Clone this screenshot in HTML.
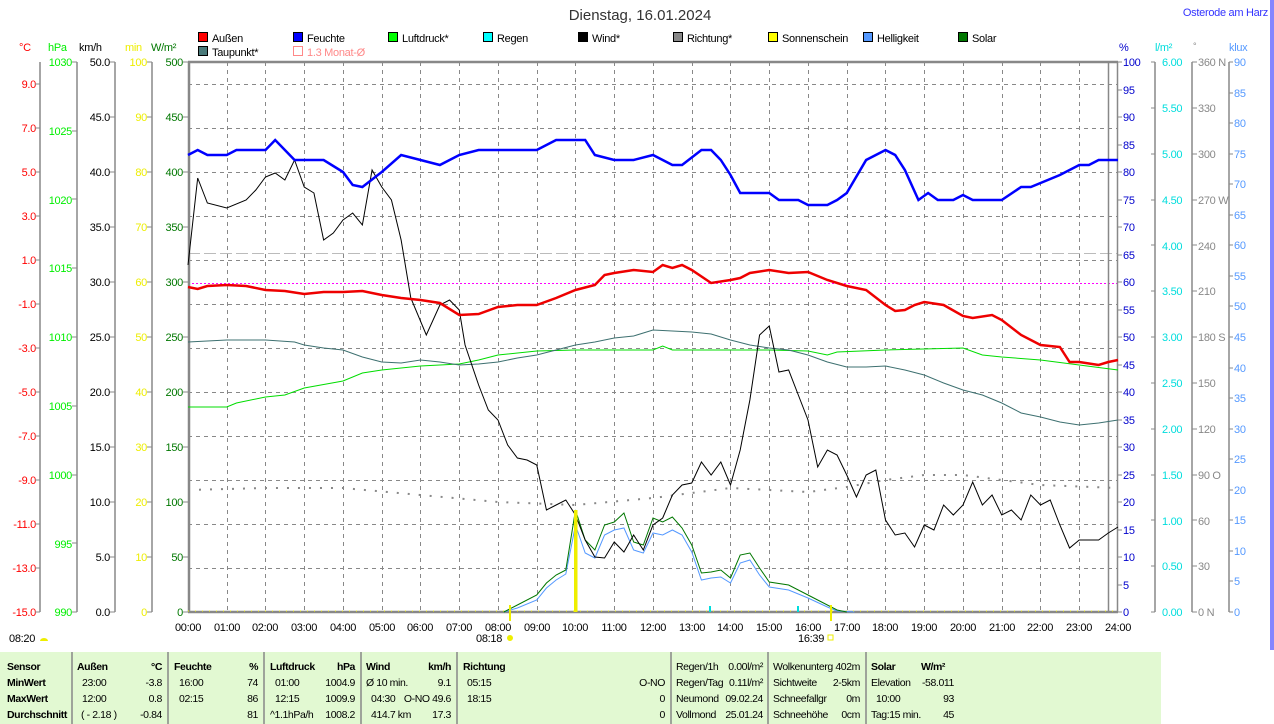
<!DOCTYPE html>
<html><head><meta charset="utf-8"><style>
body{margin:0;background:#fff;width:1274px;height:724px;overflow:hidden;font-family:"Liberation Sans",sans-serif;}
svg{position:absolute;left:0;top:0}
text{font-family:"Liberation Sans",sans-serif;font-size:11px;letter-spacing:-0.3px}
.tb text{font-size:10.5px;letter-spacing:-0.4px}
</style></head><body>
<svg width="1274" height="724" viewBox="0 0 1274 724">
<text x="640" y="20" text-anchor="middle" style="font-size:15px;letter-spacing:0" fill="#333">Dienstag, 16.01.2024</text>
<text x="1268" y="16" text-anchor="end" fill="#3333ff">Osterode am Harz</text>
<rect x="1270" y="0" width="4" height="650" fill="#3333ff" opacity="0.6"/>
<g stroke="#000" stroke-width="1">
<rect x="198.5" y="32.5" width="9" height="9" fill="#f00"/>
<rect x="293.5" y="32.5" width="9" height="9" fill="#00f"/>
<rect x="388.5" y="32.5" width="9" height="9" fill="#0f0"/>
<rect x="483.5" y="32.5" width="9" height="9" fill="#0ff"/>
<rect x="578.5" y="32.5" width="9" height="9" fill="#000"/>
<rect x="673.5" y="32.5" width="9" height="9" fill="#888"/>
<rect x="768.5" y="32.5" width="9" height="9" fill="#ff0"/>
<rect x="863.5" y="32.5" width="9" height="9" fill="#5599ff"/>
<rect x="958.5" y="32.5" width="9" height="9" fill="#070"/>
<rect x="198.5" y="46.5" width="9" height="9" fill="#4a7a7a"/>
<rect x="293.5" y="46.5" width="9" height="9" fill="none" stroke="#f88"/>
</g>
<g fill="#000">
<text x="212" y="42">Außen</text><text x="307" y="42">Feuchte</text><text x="402" y="42">Luftdruck*</text>
<text x="497" y="42">Regen</text><text x="592" y="42">Wind*</text><text x="687" y="42">Richtung*</text>
<text x="782" y="42">Sonnenschein</text><text x="877" y="42">Helligkeit</text><text x="972" y="42">Solar</text>
<text x="212" y="56">Taupunkt*</text><text x="307" y="56" fill="#f88">1.3 Monat-Ø</text>
</g>
<text x="19" y="51" fill="#f00">°C</text>
<text x="48" y="51" fill="#0e0">hPa</text>
<text x="79" y="51" fill="#000">km/h</text>
<text x="125" y="51" fill="#ee0">min</text>
<text x="151" y="51" fill="#070">W/m²</text>
<text x="1119" y="51" fill="#00c">%</text>
<text x="1155" y="51" fill="#0dd">l/m²</text>
<text x="1193" y="49" fill="#888" style="font-size:9px">°</text>
<text x="1229" y="51" fill="#5599ff">klux</text>
<g stroke="#888" stroke-dasharray="4,4" stroke-width="1">
<path d="M188 84.5H1118M188 128.5H1118M188 172.5H1118M188 216.5H1118M188 260.5H1118M188 304.5H1118M188 348.5H1118M188 392.5H1118M188 436.5H1118M188 480.5H1118M188 524.5H1118M188 568.5H1118"/>
<path d="M227.5 62V612M265.5 62V612M304.5 62V612M343.5 62V612M382.5 62V612M420.5 62V612M459.5 62V612M498.5 62V612M537.5 62V612M575.5 62V612M614.5 62V612M653.5 62V612M692.5 62V612M730.5 62V612M769.5 62V612M808.5 62V612M847.5 62V612M885.5 62V612M924.5 62V612M963.5 62V612M1002.5 62V612M1040.5 62V612M1079.5 62V612"/>
</g>
<path d="M188 253.5H1118" stroke="#bbb" stroke-dasharray="12,4"/>
<path d="M188 283.5H1118" stroke="#f0f" stroke-dasharray="2,2"/>
<g stroke="#888" fill="none">
<path d="M188 62H1118M188 612H1118" stroke-width="2.5"/>
<path d="M189 62V612" stroke-width="2.5"/>
<path d="M1108.5 62V612M1117.5 62V612" stroke-width="1.5"/>
</g>
<g stroke="#888" stroke-width="1.5">
<path d="M40 62V612M77 62V612M115 62V612M152 62V612"/>
</g>
<g>
<g fill="#f00" text-anchor="end">
<text x="36" y="88">9.0</text><text x="36" y="132">7.0</text><text x="36" y="176">5.0</text><text x="36" y="220">3.0</text><text x="36" y="264">1.0</text><text x="36" y="308">-1.0</text><text x="36" y="352">-3.0</text><text x="36" y="396">-5.0</text><text x="36" y="440">-7.0</text><text x="36" y="484">-9.0</text><text x="36" y="528">-11.0</text><text x="36" y="572">-13.0</text><text x="36" y="616">-15.0</text>
</g>
<path d="M35 84H40M35 128H40M35 172H40M35 216H40M35 260H40M35 304H40M35 348H40M35 392H40M35 436H40M35 480H40M35 524H40M35 568H40M35 612H40" stroke="#888"/>
<g fill="#0e0" text-anchor="end">
<text x="72" y="66">1030</text><text x="72" y="135">1025</text><text x="72" y="204">1020</text><text x="72" y="272">1015</text><text x="72" y="341">1010</text><text x="72" y="410">1005</text><text x="72" y="479">1000</text><text x="72" y="548">995</text><text x="72" y="616">990</text>
</g>
<path d="M72 62H77M72 131H77M72 199H77M72 268H77M72 337H77M72 406H77M72 475H77M72 543H77M72 612H77" stroke="#888"/>
<g fill="#000" text-anchor="end">
<text x="110" y="66">50.0</text><text x="110" y="121">45.0</text><text x="110" y="176">40.0</text><text x="110" y="231">35.0</text><text x="110" y="286">30.0</text><text x="110" y="341">25.0</text><text x="110" y="396">20.0</text><text x="110" y="451">15.0</text><text x="110" y="506">10.0</text><text x="110" y="561">5.0</text><text x="110" y="616">0.0</text>
</g>
<g fill="#ee0" text-anchor="end">
<text x="147" y="66">100</text><text x="147" y="121">90</text><text x="147" y="176">80</text><text x="147" y="231">70</text><text x="147" y="286">60</text><text x="147" y="341">50</text><text x="147" y="396">40</text><text x="147" y="451">30</text><text x="147" y="506">20</text><text x="147" y="561">10</text><text x="147" y="616">0</text>
</g>
<g fill="#070" text-anchor="end">
<text x="183" y="66">500</text><text x="183" y="121">450</text><text x="183" y="176">400</text><text x="183" y="231">350</text><text x="183" y="286">300</text><text x="183" y="341">250</text><text x="183" y="396">200</text><text x="183" y="451">150</text><text x="183" y="506">100</text><text x="183" y="561">50</text><text x="183" y="616">0</text>
</g>
<path d="M110 62H115M110 117H115M110 172H115M110 227H115M110 282H115M110 337H115M110 392H115M110 447H115M110 502H115M110 557H115M110 612H115M147 62H152M147 117H152M147 172H152M147 227H152M147 282H152M147 337H152M147 392H152M147 447H152M147 502H152M147 557H152M147 612H152M183 62H188M183 117H188M183 172H188M183 227H188M183 282H188M183 337H188M183 392H188M183 447H188M183 502H188M183 557H188M183 612H188" stroke="#888"/>
</g>
<g stroke="#888" stroke-width="1.5"><path d="M1155 62V612M1192 62V612M1229 62V612"/></g>
<g fill="#00c">
<text x="1123" y="66">100</text><text x="1123" y="94">95</text><text x="1123" y="121">90</text><text x="1123" y="149">85</text><text x="1123" y="176">80</text><text x="1123" y="204">75</text><text x="1123" y="231">70</text><text x="1123" y="259">65</text><text x="1123" y="286">60</text><text x="1123" y="314">55</text><text x="1123" y="341">50</text><text x="1123" y="369">45</text><text x="1123" y="396">40</text><text x="1123" y="424">35</text><text x="1123" y="451">30</text><text x="1123" y="479">25</text><text x="1123" y="506">20</text><text x="1123" y="534">15</text><text x="1123" y="561">10</text><text x="1123" y="589">5</text><text x="1123" y="616">0</text>
</g>
<path d="M1118 62H1122M1118 90H1122M1118 117H1122M1118 145H1122M1118 172H1122M1118 200H1122M1118 227H1122M1118 255H1122M1118 282H1122M1118 310H1122M1118 337H1122M1118 365H1122M1118 392H1122M1118 420H1122M1118 447H1122M1118 475H1122M1118 502H1122M1118 530H1122M1118 557H1122M1118 585H1122M1118 612H1122" stroke="#888"/>
<g fill="#0dd">
<text x="1162" y="66">6.00</text><text x="1162" y="112">5.50</text><text x="1162" y="158">5.00</text><text x="1162" y="204">4.50</text><text x="1162" y="250">4.00</text><text x="1162" y="295">3.50</text><text x="1162" y="341">3.00</text><text x="1162" y="387">2.50</text><text x="1162" y="433">2.00</text><text x="1162" y="479">1.50</text><text x="1162" y="525">1.00</text><text x="1162" y="570">0.50</text><text x="1162" y="616">0.00</text>
</g>
<g fill="#888">
<text x="1198" y="66">360 N</text><text x="1198" y="112">330</text><text x="1198" y="158">300</text><text x="1198" y="204">270 W</text><text x="1198" y="250">240</text><text x="1198" y="295">210</text><text x="1198" y="341">180 S</text><text x="1198" y="387">150</text><text x="1198" y="433">120</text><text x="1198" y="479">90  O</text><text x="1198" y="525">60</text><text x="1198" y="570">30</text><text x="1198" y="616">0   N</text>
</g>
<path d="M1151 62H1155M1151 108H1155M1151 154H1155M1151 200H1155M1151 245H1155M1151 291H1155M1151 337H1155M1151 383H1155M1151 429H1155M1151 475H1155M1151 520H1155M1151 566H1155M1151 612H1155M1192 62H1197M1192 108H1197M1192 154H1197M1192 200H1197M1192 245H1197M1192 291H1197M1192 337H1197M1192 383H1197M1192 429H1197M1192 475H1197M1192 520H1197M1192 566H1197M1192 612H1197" stroke="#888"/>
<g fill="#5599ff">
<text x="1234" y="66">90</text><text x="1234" y="97">85</text><text x="1234" y="127">80</text><text x="1234" y="158">75</text><text x="1234" y="188">70</text><text x="1234" y="219">65</text><text x="1234" y="249">60</text><text x="1234" y="280">55</text><text x="1234" y="310">50</text><text x="1234" y="341">45</text><text x="1234" y="372">40</text><text x="1234" y="402">35</text><text x="1234" y="433">30</text><text x="1234" y="463">25</text><text x="1234" y="494">20</text><text x="1234" y="524">15</text><text x="1234" y="555">10</text><text x="1234" y="585">5</text><text x="1234" y="616">0</text>
</g>
<path d="M1229 62H1233M1229 93H1233M1229 123H1233M1229 154H1233M1229 184H1233M1229 215H1233M1229 245H1233M1229 276H1233M1229 306H1233M1229 337H1233M1229 368H1233M1229 398H1233M1229 429H1233M1229 459H1233M1229 490H1233M1229 520H1233M1229 551H1233M1229 581H1233M1229 612H1233" stroke="#888"/>
<g transform="translate(188,0) scale(38.75,1)" fill="none">
<polyline vector-effect="non-scaling-stroke" stroke="#888" stroke-width="2" stroke-dasharray="2,9" points="0,490 2,488 4,488 6,495 8,502 10,505 12,498 14,488 15,490 16,492 17,487 18,480 19,475 20,475 21,480 22,485 24,488"/>
<polyline vector-effect="non-scaling-stroke" stroke="#ee0" stroke-width="1" stroke-dasharray="1,6" points="0,611 24,611"/>
<polyline vector-effect="non-scaling-stroke" stroke="#00dd00" stroke-width="1" points="0,407 1,407 1.25,403 2,397 2.5,395 3,388 4,381 4.5,373 5,370 6,366 7,364 7.5,360 8,355 9,351 10,350 12,350 12.25,346 12.5,350 15,350 16,351 16.5,355 16.75,352 18,350 20,348 20.5,355 21,357 22,360 23,365 24,370"/>
<polyline vector-effect="non-scaling-stroke" stroke="#3d7070" stroke-width="1" points="0,342 1,340 2,340 2.75,342 3,345 3.5,348 4,350 4.5,357 5,362 5.5,363 6,360 6.5,362 7,365 7.5,364 8,362 8.5,358 9,355 9.5,350 10,345 10.5,342 11,338 11.5,336 12,330 13,332 13.5,334 14,340 14.5,345 15,348 15.5,350 16,355 16.5,362 17,367 17.5,367 18,366 18.5,370 19,375 19.5,383 20,390 20.5,395 21,403 21.5,413 22,417 22.5,422 23,425 23.5,423 24,420"/>
<polyline vector-effect="non-scaling-stroke" stroke="#5599ff" stroke-width="1" points="8.15,612 8.5,608 9,600 9.25,588 9.5,580 9.75,574 10,525 10.25,553 10.5,558 10.75,535 11,530 11.25,528 11.5,550 11.75,553 12,533 12.25,535 12.5,530 12.75,535 13,552 13.25,580 13.5,578 13.75,577 14,583 14.25,563 14.5,560 14.75,575 15,587 15.5,590 16,598 16.5,607 16.75,611 17.2,612"/>
<polyline vector-effect="non-scaling-stroke" stroke="#007700" stroke-width="1" points="8.15,612 8.5,605 9,595 9.25,583 9.5,575 9.75,570 10,510 10.25,540 10.5,550 10.75,525 11,522 11.25,513 11.5,542 11.75,545 12,518 12.25,522 12.5,517 12.75,528 13,545 13.25,573 13.5,572 13.75,570 14,578 14.25,555 14.5,553 14.75,568 15,582 15.5,585 16,595 16.5,605 16.75,610 17,612"/>
<polyline vector-effect="non-scaling-stroke" stroke="#000" stroke-width="1" points="0,265 0.25,178 0.5,203 1,208 1.5,200 1.75,190 2,177 2.25,173 2.5,180 2.75,160 3,187 3.25,193 3.5,240 3.75,233 4,220 4.25,213 4.5,225 4.75,170 5,187 5.25,200 5.5,240 5.75,298 6.15,335 6.5,305 6.75,300 7,310 7.15,345 7.5,385 7.75,410 8,420 8.25,445 8.5,458 8.75,460 9,465 9.25,510 9.5,505 9.75,500 10,515 10.25,540 10.5,557 10.75,558 11,542 11.25,552 11.5,535 11.75,550 12,525 12.25,518 12.5,495 12.75,485 13,483 13.25,462 13.5,475 13.75,462 14,485 14.25,450 14.5,400 14.75,335 15,326 15.25,372 15.5,370 15.75,395 16,420 16.25,467 16.5,450 16.75,455 17,475 17.25,497 17.5,475 17.75,470 18,520 18.25,535 18.5,533 18.75,547 19,525 19.25,530 19.5,505 19.75,515 20,505 20.25,482 20.5,505 20.75,495 21,515 21.25,510 21.5,520 21.75,495 22,505 22.25,500 22.5,525 22.75,548 23,540 23.5,540 23.75,533 24,527"/>
<polyline vector-effect="non-scaling-stroke" stroke="#e00" stroke-width="2.5" points="0,287 0.25,289 0.5,286 1,285 1.5,286 2,290 2.5,291 3,294 3.5,292 4,292 4.5,291 5,295 5.5,298 6,300 6.5,303 7,315 7.5,314 8,307 8.5,305 9,305 9.5,298 10,290 10.5,285 10.75,275 11,273 11.5,270 12,272 12.25,265 12.5,268 12.75,265 13,270 13.5,283 14,280 14.25,278 14.5,273 15,270 15.5,273 16,272 16.5,280 17,286 17.5,290 18,305 18.25,311 18.5,310 18.75,305 19,302 19.5,305 20,316 20.25,318 20.75,315 21,320 21.5,335 22,345 22.5,347 22.75,362 23,362 23.5,365 23.75,362 24,360"/>
<polyline vector-effect="non-scaling-stroke" stroke="#00f" stroke-width="2.5" points="0,155 0.25,150 0.5,155 1,155 1.25,150 2,150 2.25,140 2.5,150 2.75,160 3.5,160 4,172 4.25,185 4.5,187 5,172 5.5,155 6,160 6.5,165 7,155 7.5,150 9,150 9.5,140 10.25,140 10.5,155 11,160 11.5,160 12,155 12.5,165 12.75,165 13.25,150 13.5,150 13.75,160 14,175 14.25,193 15,193 15.25,200 15.75,200 16,205 16.5,205 16.75,200 17,193 17.5,160 18,150 18.25,155 18.5,170 18.85,200 19.1,193 19.35,200 19.75,200 20,195 20.25,200 21,200 21.5,187 21.75,187 22.5,175 23,165 23.25,165 23.5,160 24,160"/>
</g>
<rect x="574" y="510" width="3.5" height="102" fill="#ee0"/>
<rect x="830" y="605" width="2" height="16" fill="#ee0"/>
<rect x="509" y="605" width="2" height="16" fill="#ee0"/>
<rect x="709" y="606" width="2" height="6" fill="#0dd"/>
<rect x="797" y="606" width="2" height="6" fill="#0dd"/>
<g fill="#000" text-anchor="middle">
<text x="188" y="631">00:00</text><text x="227" y="631">01:00</text><text x="265" y="631">02:00</text><text x="304" y="631">03:00</text><text x="343" y="631">04:00</text><text x="382" y="631">05:00</text><text x="420" y="631">06:00</text><text x="459" y="631">07:00</text><text x="498" y="631">08:00</text><text x="537" y="631">09:00</text><text x="575" y="631">10:00</text><text x="614" y="631">11:00</text><text x="653" y="631">12:00</text><text x="692" y="631">13:00</text><text x="730" y="631">14:00</text><text x="769" y="631">15:00</text><text x="808" y="631">16:00</text><text x="847" y="631">17:00</text><text x="885" y="631">18:00</text><text x="924" y="631">19:00</text><text x="963" y="631">20:00</text><text x="1002" y="631">21:00</text><text x="1040" y="631">22:00</text><text x="1079" y="631">23:00</text><text x="1118" y="631">24:00</text>
</g>
<text x="476" y="642">08:18</text><circle cx="510" cy="638" r="3" fill="#ee0"/>
<text x="798" y="642">16:39</text><rect x="828" y="635" width="5" height="5" fill="none" stroke="#ee0"/>
<text x="9" y="642">08:20</text><path d="M40 641a4 3 0 0 1 8 0z" fill="#ee0"/>
<rect x="0" y="652" width="1161" height="72" fill="#e2f9d2"/>
<g stroke="#888" stroke-width="1.5"><path d="M72 652V724M168 652V724M264 652V724M361 652V724M457 652V724M671 652V724M768 652V724M866 652V724"/></g>
<g class="tb">
<g fill="#000" font-weight="bold">
<text x="7" y="670">Sensor</text><text x="7" y="686">MinWert</text><text x="7" y="702">MaxWert</text><text x="7" y="718">Durchschnitt</text>
<text x="77" y="670">Außen</text><text x="162" y="670" text-anchor="end">°C</text>
<text x="174" y="670">Feuchte</text><text x="258" y="670" text-anchor="end">%</text>
<text x="270" y="670">Luftdruck</text><text x="355" y="670" text-anchor="end">hPa</text>
<text x="366" y="670">Wind</text><text x="451" y="670" text-anchor="end">km/h</text>
<text x="463" y="670">Richtung</text>
<text x="871" y="670">Solar</text><text x="945" y="670" text-anchor="end">W/m²</text>
</g>
<g fill="#000">
<text x="82" y="686">23:00</text><text x="162" y="686" text-anchor="end">-3.8</text>
<text x="82" y="702">12:00</text><text x="162" y="702" text-anchor="end">0.8</text>
<text x="81" y="718">( - 2.18 )</text><text x="162" y="718" text-anchor="end">-0.84</text>
<text x="179" y="686">16:00</text><text x="258" y="686" text-anchor="end">74</text>
<text x="179" y="702">02:15</text><text x="258" y="702" text-anchor="end">86</text>
<text x="258" y="718" text-anchor="end">81</text>
<text x="275" y="686">01:00</text><text x="355" y="686" text-anchor="end">1004.9</text>
<text x="275" y="702">12:15</text><text x="355" y="702" text-anchor="end">1009.9</text>
<text x="270" y="718">^1.1hPa/h</text><text x="355" y="718" text-anchor="end">1008.2</text>
<text x="366" y="686">Ø 10 min.</text><text x="451" y="686" text-anchor="end">9.1</text>
<text x="371" y="702">04:30</text><text x="451" y="702" text-anchor="end">O-NO 49.6</text>
<text x="371" y="718">414.7 km</text><text x="451" y="718" text-anchor="end">17.3</text>
<text x="467" y="686">05:15</text><text x="467" y="702">18:15</text>
<text x="665" y="686" text-anchor="end">O-NO</text><text x="665" y="702" text-anchor="end">0</text><text x="665" y="718" text-anchor="end">0</text>
<text x="676" y="670">Regen/1h</text><text x="763" y="670" text-anchor="end">0.00l/m²</text>
<text x="676" y="686">Regen/Tag</text><text x="763" y="686" text-anchor="end">0.11l/m²</text>
<text x="676" y="702">Neumond</text><text x="763" y="702" text-anchor="end">09.02.24</text>
<text x="676" y="718">Vollmond</text><text x="763" y="718" text-anchor="end">25.01.24</text>
<text x="773" y="670">Wolkenunterg</text><text x="860" y="670" text-anchor="end">402m</text>
<text x="773" y="686">Sichtweite</text><text x="860" y="686" text-anchor="end">2-5km</text>
<text x="773" y="702">Schneefallgr</text><text x="860" y="702" text-anchor="end">0m</text>
<text x="773" y="718">Schneehöhe</text><text x="860" y="718" text-anchor="end">0cm</text>
<text x="871" y="686">Elevation</text><text x="954" y="686" text-anchor="end">-58.011</text>
<text x="876" y="702">10:00</text><text x="954" y="702" text-anchor="end">93</text>
<text x="871" y="718">Tag:15 min.</text><text x="954" y="718" text-anchor="end">45</text>
</g>
</g>
</svg>
</body></html>
